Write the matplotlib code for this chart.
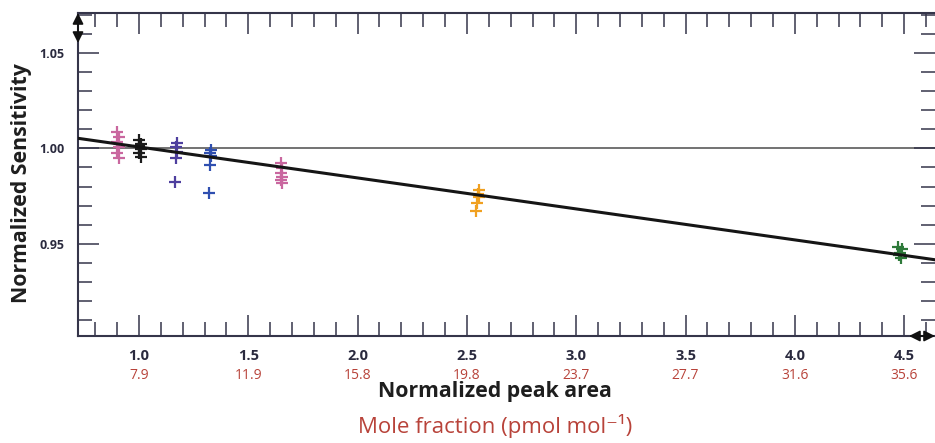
import numpy as np
import matplotlib.pyplot as plt
from matplotlib.ticker import MultipleLocator
from matplotlib.transforms import blended_transform_factory

# data: (normalized peak area, normalized sensitivity) per group
pink1_x = [0.90, 0.91, 0.90, 0.91, 0.90, 0.91]
pink1_y = [1.0084, 1.0058, 1.0032, 1.0005, 0.9974, 0.9947]
black_x = [1.00, 1.01, 1.00, 1.01, 1.00, 1.01]
black_y = [1.0045, 1.0025, 1.0010, 0.9995, 0.9975, 0.9955]
purple_x = [1.175, 1.17, 1.175, 1.17, 1.165]
purple_y = [1.0026, 1.0005, 0.9979, 0.9950, 0.9826]
blue_x = [1.33, 1.325, 1.33, 1.325, 1.32]
blue_y = [0.9990, 0.9975, 0.9960, 0.9915, 0.9768]
pink2_x = [1.65, 1.655, 1.65, 1.655, 1.65, 1.655]
pink2_y = [0.9921, 0.9895, 0.9870, 0.9850, 0.9832, 0.9816]
orange_x = [2.555, 2.55, 2.555, 2.545, 2.54]
orange_y = [0.9780, 0.9760, 0.9745, 0.9715, 0.9670]
green_x = [4.47, 4.49, 4.48, 4.475, 4.485]
green_y = [0.9484, 0.9470, 0.9453, 0.9440, 0.9426]

groups = [
    (pink1_x, pink1_y, "#c9679f"),
    (black_x, black_y, "#1c1c1c"),
    (purple_x, purple_y, "#4e3f9e"),
    (blue_x, blue_y, "#2f4fb0"),
    (pink2_x, pink2_y, "#c9679f"),
    (orange_x, orange_y, "#f0a020"),
    (green_x, green_y, "#2e7a3a"),
]

fit_intercept = 1.0170
fit_slope = -0.01625
reference_level = 1.0

major_ticks = [1.0, 1.5, 2.0, 2.5, 3.0, 3.5, 4.0, 4.5]
mole_fraction_labels = ["7.9", "11.9", "15.8", "19.8", "23.7", "27.7", "31.6", "35.6"]

xlim = (0.721, 4.641)
ylim = (0.9016, 1.071)

plt.rcParams["font.family"] = ["Open Sans", "DejaVu Sans"]
axis_col = "#35354a"
red = "#b8433a"

fig = plt.figure(figsize=(9.35, 4.43), dpi=100)
ax = fig.add_axes([78 / 935, 107 / 443, 857 / 935, 323 / 443])

ax.axhline(reference_level, color="#5a5a5a", lw=1.2, zorder=1)
xs = np.array(xlim)
ax.plot(xs, fit_intercept + fit_slope * xs, color="#151515", lw=2.2, zorder=3)

for gx, gy, c in groups:
    ax.plot(gx, gy, ls="none", marker="+", ms=8, mew=1.6, color=c, zorder=2)

ax.set_xlim(*xlim)
ax.set_ylim(*ylim)
ax.xaxis.set_major_locator(MultipleLocator(0.5))
ax.xaxis.set_minor_locator(MultipleLocator(0.1))
ax.yaxis.set_major_locator(MultipleLocator(0.05))
ax.yaxis.set_minor_locator(MultipleLocator(0.01))

ax.tick_params(which="both", direction="in", top=True, right=True, color=axis_col, width=1.1)
ax.tick_params(which="major", length=15)
ax.tick_params(which="minor", length=10)
ax.tick_params(axis="x", pad=9, labelsize=10.5, labelcolor="#2a2a3e")
ax.tick_params(axis="y", pad=10, labelsize=9, labelcolor="#2a2a3e")
ax.set_xticks(major_ticks)
ax.set_xticklabels([f"{t:.1f}" for t in major_ticks], fontweight="bold")
ax.set_yticks([0.95, 1.00, 1.05])
ax.set_yticklabels(["0.95", "1.00", "1.05"], fontweight="bold")

for s in ["left", "top", "bottom"]:
    ax.spines[s].set_color(axis_col)
    ax.spines[s].set_linewidth(1.5)
ax.spines["right"].set_visible(False)

trans = blended_transform_factory(ax.transData, ax.transAxes)
for t, lab in zip(major_ticks, mole_fraction_labels):
    ax.text(t, -0.121, lab, transform=trans, ha="center", va="center",
            fontsize=10, color=red, clip_on=False)

ax.text(0.487, -0.173, "Normalized peak area", transform=ax.transAxes, ha="center",
        va="center", fontsize=15.3, fontweight="bold", color="#1e1e1e")
ax.text(0.487, -0.279, "Mole fraction (pmol mol\u207b\u00b9)", transform=ax.transAxes,
        ha="center", va="center", fontsize=16, color=red)
ax.set_ylabel("Normalized Sensitivity", fontsize=15.3, fontweight="bold", color="#1e1e1e")
ax.yaxis.set_label_coords(-0.054, 0.474)

# axis-break arrows at the corners
arrow_style = dict(arrowstyle="<|-|>", color="#111", lw=1.3,
                   mutation_scale=16, shrinkA=0, shrinkB=0)
ax.annotate("", xy=(0, 1.0), xytext=(0, 1 - 30 / 323), xycoords="axes fraction",
            arrowprops=arrow_style, annotation_clip=False)
ax.annotate("", xy=(1.0, 0.0), xytext=(1 - 26 / 857, 0.0), xycoords="axes fraction",
            arrowprops=arrow_style, annotation_clip=False)

fig.savefig("out.png", dpi=100)
